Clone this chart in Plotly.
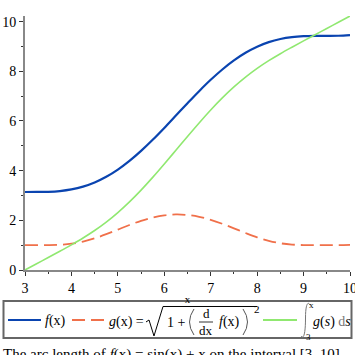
import plotly.graph_objects as go

# ---- data ----
x_vals = [3.0, 3.25, 3.5, 3.75, 4.0, 4.25, 4.5, 4.75, 5.0, 5.25, 5.5, 5.75, 6.0, 6.25,
          6.5, 6.75, 7.0, 7.25, 7.5, 7.75, 8.0, 8.25, 8.5, 8.75, 9.0, 9.25, 9.5, 9.75, 10.0]
f_vals = [3.141, 3.142, 3.149, 3.178, 3.243, 3.355, 3.523, 3.751, 4.041, 4.391, 4.795,
          5.242, 5.721, 6.217, 6.715, 7.200, 7.657, 8.073, 8.438, 8.745, 8.989, 9.173,
          9.299, 9.375, 9.412, 9.424, 9.425, 9.430, 9.456]
g_vals = [1.000, 1.000, 1.002, 1.016, 1.058, 1.143, 1.274, 1.441, 1.627, 1.813, 1.980,
          2.113, 2.201, 2.236, 2.215, 2.141, 2.019, 1.860, 1.677, 1.489, 1.315, 1.174,
          1.076, 1.024, 1.004, 1.000, 1.000, 1.001, 1.013]
int_vals = [0.000, 0.250, 0.500, 0.753, 1.012, 1.287, 1.589, 1.928, 2.312, 2.742, 3.216,
            3.728, 4.267, 4.821, 5.378, 5.922, 6.442, 6.927, 7.369, 7.765, 8.116, 8.427,
            8.708, 8.970, 9.224, 9.474, 9.724, 9.975, 10.226]
x_ticks = [3, 4, 5, 6, 7, 8, 9, 10]
y_ticks = [0, 2, 4, 6, 8, 10]

BLUE = "#0a44b0"
ORANGE = "#f0704a"
GREEN = "#90e870"
FONT = "Liberation Serif"

fig = go.Figure()
fig.add_trace(go.Scatter(x=x_vals, y=f_vals, mode="lines", line=dict(color=BLUE, width=2.2, shape="spline"),
                         showlegend=False))
fig.add_trace(go.Scatter(x=x_vals, y=g_vals, mode="lines",
                         line=dict(color=ORANGE, width=1.8, shape="spline", dash="13px,6px"),
                         showlegend=False))
fig.add_trace(go.Scatter(x=x_vals, y=int_vals, mode="lines", line=dict(color=GREEN, width=1.6, shape="spline"),
                         showlegend=False))

# plot area geometry in pixels
L, T, W, H = 25, 16, 325, 254


def px(x):
    return (x - L) / W


def py(y):
    return (T + H - y) / H


shapes = []
annotations = []


def hline(x0, x1, y, color, width=2, dash=None):
    d = dict(type="line", xref="paper", yref="paper", x0=px(x0), x1=px(x1), y0=py(y), y1=py(y),
             line=dict(color=color, width=width))
    if dash:
        d["line"]["dash"] = dash
    shapes.append(d)


def path(points, color="#000", width=1):
    s = "M " + " L ".join(f"{px(a):.5f},{py(b):.5f}" for a, b in points)
    shapes.append(dict(type="path", xref="paper", yref="paper", path=s, line=dict(color=color, width=width)))


def qpath(p0, c, p1, color="#555", width=1):
    s = (f"M {px(p0[0]):.5f},{py(p0[1]):.5f} Q {px(c[0]):.5f},{py(c[1]):.5f} "
         f"{px(p1[0]):.5f},{py(p1[1]):.5f}")
    shapes.append(dict(type="path", xref="paper", yref="paper", path=s, line=dict(color=color, width=width)))


def cpath(segs, color="#777", width=1):
    p0 = segs[0]
    s = f"M {px(p0[0]):.5f},{py(p0[1]):.5f}"
    for c1, c2, e in segs[1:]:
        s += (f" C {px(c1[0]):.5f},{py(c1[1]):.5f} {px(c2[0]):.5f},{py(c2[1]):.5f} "
              f"{px(e[0]):.5f},{py(e[1]):.5f}")
    shapes.append(dict(type="path", xref="paper", yref="paper", path=s, line=dict(color=color, width=width)))


def text(x, y, s, size=14, color="#000", anchor="left"):
    annotations.append(dict(x=px(x), y=py(y), xref="paper", yref="paper", text=s, showarrow=False,
                            xanchor=anchor, yanchor="middle",
                            font=dict(family=FONT, size=size, color=color)))


# legend box
shapes.append(dict(type="rect", xref="paper", yref="paper", x0=px(3.5), x1=px(351.5), y0=py(301), y1=py(338),
                   line=dict(color="#666", width=2), fillcolor="rgba(0,0,0,0)"))
hline(8, 41, 320, BLUE, 2.2)
text(43, 321, "<i>f</i>(x)")
hline(72, 105, 320, ORANGE, 1.8, dash="13px,6px")
text(107, 322, "<i>g</i>(x) =")
path([(146, 322), (149, 320), (154, 336), (163, 306.5), (257, 306.5)], "#000", 1)
text(165, 322, "1 +")
qpath((194, 309), (185, 322), (194, 335))
text(206, 313.5, "d", size=13, anchor="center")
hline(199, 213, 322, "#000", 0.8)
text(206, 330.5, "dx", size=13, anchor="center")
text(217, 322, "<i>f</i>(x)")
qpath((243, 309), (252, 322), (243, 335))
text(252, 309, "2", size=11)
hline(263, 297, 320, GREEN, 1.8)
cpath([(310, 305), ((308, 301), (305.5, 304), (305.5, 318)), ((305.5, 332), (304, 340), (301, 336))])
text(307, 304.5, "x", size=9)
text(304, 337, "3", size=9)
text(311, 322, "<i>g</i>(<i>s</i>) <span style='color:#777'>d</span><i>s</i>")

# caption
text(1, 354, "The arc length of <i>f</i>(x) = sin(x) + x on the interval [3, 10].", size=15)

axis_common = dict(showline=True, linecolor="#888", linewidth=2, showgrid=False, zeroline=False,
                   ticks="outside", ticklen=4, tickwidth=1, tickcolor="#333", automargin=False,
                   tickfont=dict(family=FONT, size=14, color="#000"))

fig.update_layout(
    width=355, height=355,
    margin=dict(l=L, r=355 - L - W, t=T, b=355 - T - H),
    paper_bgcolor="white", plot_bgcolor="white",
    showlegend=False,
    xaxis=dict(range=[3, 10], tickvals=x_ticks, ticktext=[str(v) for v in x_ticks],
               ticklabeloverflow="allow",
               minor=dict(ticks="outside", ticklen=2, dtick=0.5, tickcolor="#333"),
               title=dict(text="x", font=dict(family=FONT, size=11, color="#000"), standoff=1),
               **axis_common),
    yaxis=dict(range=[0, 10.226], tickvals=y_ticks, ticktext=[str(v) for v in y_ticks],
               ticklabeloverflow="allow",
               minor=dict(ticks="outside", ticklen=2, dtick=1, tickcolor="#333"),
               **axis_common),
    shapes=shapes,
    annotations=annotations,
)

fig.write_html("out.html", config={"displayModeBar": False},
               post_script="document.body.style.margin='0';")
